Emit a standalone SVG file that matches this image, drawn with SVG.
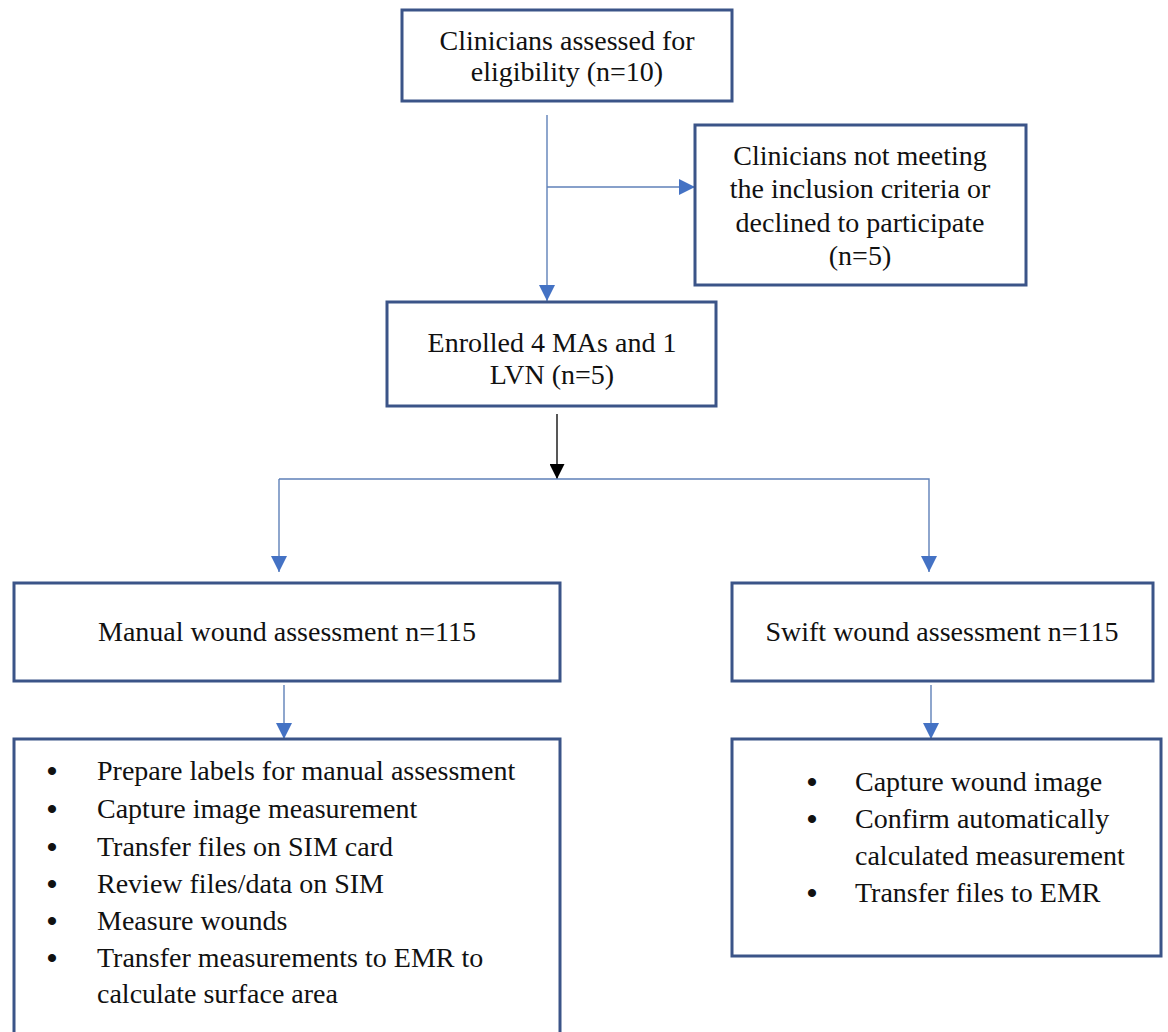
<svg xmlns="http://www.w3.org/2000/svg" width="1168" height="1032" viewBox="0 0 1168 1032">
  <style>
    .box { fill: #ffffff; stroke: #3B5488; stroke-width: 3; }
    text { font-family: 'Liberation Serif', 'Times New Roman', 'DejaVu Serif', serif; font-size: 28px; fill: #111111; }
    .c { text-anchor: middle; }
    .b { text-anchor: middle; font-size: 30px; font-weight: bold; }
    .ln { fill: none; stroke: #5F80B8; stroke-width: 1.4; }
    .lk { fill: none; stroke: #111111; stroke-width: 1.4; }
  </style>
  <defs>
    <marker id="ab" viewBox="0 0 10 10" refX="10" refY="5" markerWidth="16" markerHeight="16" markerUnits="userSpaceOnUse" orient="auto">
      <path d="M0,0 L10,5 L0,10 Z" fill="#4472C4"/>
    </marker>
    <marker id="ak" viewBox="0 0 10 10" refX="10" refY="5" markerWidth="15" markerHeight="15" markerUnits="userSpaceOnUse" orient="auto">
      <path d="M0,0 L10,5 L0,10 Z" fill="#000000"/>
    </marker>
  </defs>
  <rect x="0" y="0" width="1168" height="1032" fill="#ffffff"/>

  <g id="connectors">
    <line class="ln" x1="547" y1="115" x2="547" y2="301" marker-end="url(#ab)"/>
    <line class="ln" x1="547" y1="187" x2="695" y2="187" marker-end="url(#ab)"/>
    <line class="lk" x1="557" y1="414" x2="557" y2="479" marker-end="url(#ak)"/>
    <polyline class="ln" points="279,479 929,479 929,572" marker-end="url(#ab)"/>
    <line class="ln" x1="279" y1="479" x2="279" y2="572" marker-end="url(#ab)"/>
    <line class="ln" x1="284" y1="685" x2="284" y2="739" marker-end="url(#ab)"/>
    <line class="ln" x1="931" y1="685" x2="931" y2="739" marker-end="url(#ab)"/>
  </g>

  <g id="assessed">
    <rect class="box" x="402" y="10" width="330" height="91"/>
    <text class="c" x="567" y="50">Clinicians assessed for</text>
    <text class="c" x="567" y="81">eligibility (n=10)</text>
  </g>

  <g id="excluded">
    <rect class="box" x="695" y="125" width="331" height="160"/>
    <text class="c" x="860" y="165">Clinicians not meeting</text>
    <text class="c" x="860" y="198">the inclusion criteria or</text>
    <text class="c" x="860" y="232">declined to participate</text>
    <text class="c" x="860" y="265">(n=5)</text>
  </g>

  <g id="enrolled">
    <rect class="box" x="387" y="302" width="329" height="104"/>
    <text class="c" x="552" y="352">Enrolled 4 MAs and 1</text>
    <text class="c" x="552" y="384">LVN (n=5)</text>
  </g>

  <g id="manual">
    <rect class="box" x="14" y="583" width="546" height="98"/>
    <text class="c" x="287" y="641">Manual wound assessment n=115</text>
  </g>

  <g id="swift">
    <rect class="box" x="732" y="583" width="421" height="98"/>
    <text class="c" x="942" y="641">Swift wound assessment n=115</text>
  </g>

  <g id="manual-steps">
    <rect class="box" x="14" y="739" width="546" height="310"/>
    <text class="b" x="52" y="781">•</text>
    <text x="97" y="780">Prepare labels for manual assessment</text>
    <text class="b" x="52" y="819">•</text>
    <text x="97" y="818">Capture image measurement</text>
    <text class="b" x="52" y="857">•</text>
    <text x="97" y="856">Transfer files on SIM card</text>
    <text class="b" x="52" y="894">•</text>
    <text x="97" y="893">Review files/data on SIM</text>
    <text class="b" x="52" y="931">•</text>
    <text x="97" y="930">Measure wounds</text>
    <text class="b" x="52" y="968">•</text>
    <text x="97" y="967">Transfer measurements to EMR to</text>
    <text x="97" y="1003">calculate surface area</text>
  </g>

  <g id="swift-steps">
    <rect class="box" x="732" y="739" width="429" height="217"/>
    <text class="b" x="812" y="792">•</text>
    <text x="855" y="791">Capture wound image</text>
    <text class="b" x="812" y="829">•</text>
    <text x="855" y="828">Confirm automatically</text>
    <text x="855" y="865">calculated measurement</text>
    <text class="b" x="812" y="903">•</text>
    <text x="855" y="902">Transfer files to EMR</text>
  </g>
</svg>
